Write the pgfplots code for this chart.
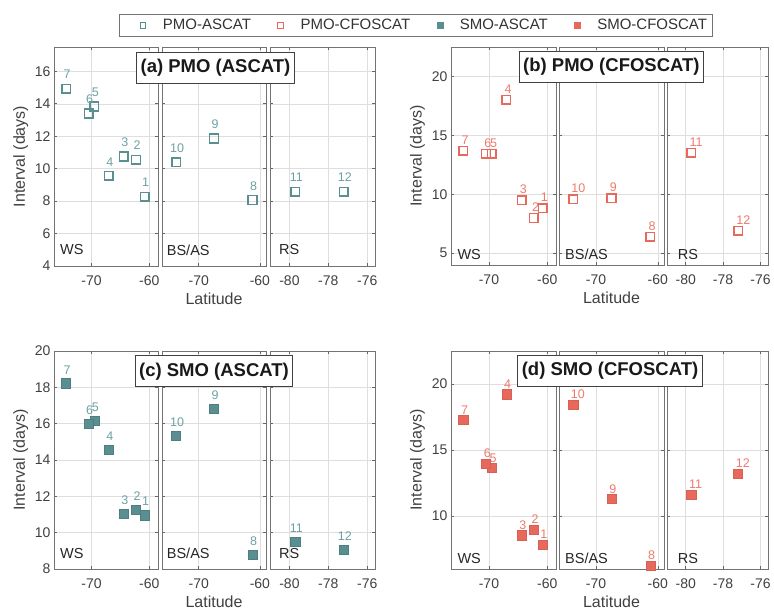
\documentclass[border=0pt]{standalone}
\usepackage{fontspec}
\setmainfont{Liberation Sans}
\usepackage{pgfplots}
\pgfplotsset{compat=1.18}

\definecolor{mteal}{RGB}{90,143,146}
\definecolor{mtealL}{RGB}{110,160,162}
\definecolor{mred}{RGB}{232,104,92}
\definecolor{mredL}{RGB}{238,122,110}

\newcommand{\fs}[1]{\fontsize{#1}{#1}\selectfont}

\tikzset{rlab/.style={anchor=west, font=\fs{14.5}, text=black!85, inner sep=0pt},
  tbox/.style={draw=black!75, fill=white, line width=0.8pt, font=\bfseries\fs{18.5}, text=black!90, inner xsep=4pt, inner ysep=0pt, minimum height=31pt}}

\pgfplotsset{
 base/.style={scale only axis, anchor=south west, clip=false,
   axis line style={black!55, line width=0.9pt},
   grid=major, grid style={black!13, line width=0.5pt},
   tick style={black!60, line width=0.6pt}, major tick length=3pt, tick align=inside,
   tick label style={font=\fs{14}, text=black!75},
   /pgf/number format/assume math mode=true,
   xticklabel style={yshift=-6pt},
   every axis y label/.style={at={(axis description cs:-0.32,0.5)}, rotate=90, anchor=center, font=\fs{16}, text=black!75},
   every axis x label/.style={at={(axis description cs:0.5,-0.151)}, anchor=center, font=\fs{16}, text=black!75},
 },
 ws/.style={base, xmin=-76.5, xmax=-58.5, xtick={-70,-60}, ylabel={Interval (days)}},
 bs/.style={base, xmin=-76, xmax=-59, xtick={-70,-60}, yticklabels={}, xlabel={Latitude}},
 rs/.style={base, xmin=-81, xmax=-75.6, xtick={-80,-78,-76}, yticklabels={}},
 labT/.style={nodes near coords, point meta=explicit symbolic, nodes near coords align={anchor=south},
   nodes near coords style={font=\fs{12.5}, text=mtealL, inner sep=0pt, xshift=1pt, yshift=9pt}},
 labR/.style={nodes near coords, point meta=explicit symbolic, nodes near coords align={anchor=south west},
   nodes near coords style={font=\fs{12.5}, text=mredL, inner sep=0pt, xshift=-2.5pt, yshift=5.5pt}},
 openT/.style={only marks, mark=square, mark size=4.3pt, mark options={draw=mteal, line width=1.5pt}, labT},
 openR/.style={only marks, mark=square, mark size=4.3pt, mark options={draw=mred, line width=1.5pt}, labR},
 fillT/.style={only marks, mark=square*, mark size=4.6pt, mark options={draw=mteal!88!black, fill=mteal, line width=0.5pt}, labT},
 fillR/.style={only marks, mark=square*, mark size=4.6pt, mark options={draw=mred!92!black, fill=mred, line width=0.5pt}, labR},
}

\begin{document}
\begin{tikzpicture}
\path[use as bounding box] (0pt,0pt) rectangle (774pt,610pt);

% ================= (a) PMO ASCAT =================
\begin{axis}[ws, at={(54pt,344pt)}, width=104pt, height=219pt, ymin=4, ymax=17.5, ytick={4,6,...,16},
  legend columns=4,
  legend style={at={(axis description cs:3.476,1.0982)}, anchor=center, draw=black!55, line width=0.8pt, fill=white,
    inner xsep=5pt, inner ysep=5pt, font=\fs{15}, text=black!80, nodes={inner sep=0pt},
    /tikz/every odd column/.style={column sep=14pt}, /tikz/every even column/.style={column sep=10.5pt}},
  legend image code/.code={\path[draw=none] (-19pt,0pt) (6pt,0pt); \path[#1, draw=none] plot coordinates {(0pt,0pt)};}]
\addplot[openT, forget plot] table[meta=l]{
x y l
-60.8 8.28 1
-62.3 10.55 2
-64.4 10.75 3
-67.0 9.56 4
-69.5 13.83 5
-70.5 13.40 6
-74.4 14.93 7
};
\node[rlab] at (axis description cs:0.058,0.073) {WS};
\addlegendimage{only marks, mark=square, mark size=2.7pt, mark options={draw=mteal, line width=1.1pt}}
\addlegendentry{PMO-ASCAT}
\addlegendimage{only marks, mark=square, mark size=2.7pt, mark options={draw=mred, line width=1.1pt}}
\addlegendentry{PMO-CFOSCAT}
\addlegendimage{only marks, mark=square*, mark size=3pt, mark options={draw=mteal, fill=mteal, line width=0.4pt}}
\addlegendentry{SMO-ASCAT}
\addlegendimage{only marks, mark=square*, mark size=3pt, mark options={draw=mred, fill=mred, line width=0.4pt}}
\addlegendentry{SMO-CFOSCAT}
\end{axis}
\begin{axis}[bs, at={(162pt,344pt)}, width=104pt, height=219pt, ymin=4, ymax=17.5, ytick={4,6,...,16}]
\addplot[openT] table[meta=l]{
x y l
-61.2 8.07 8
-67.5 11.86 9
-73.7 10.40 10
};
\node[rlab] at (axis description cs:0.045,0.073) {BS/AS};
\end{axis}
\begin{axis}[rs, at={(270pt,344pt)}, width=105pt, height=219pt, ymin=4, ymax=17.5, ytick={4,6,...,16}]
\addplot[openT] table[meta=l]{
x y l
-79.7 8.58 11
-77.2 8.58 12
};
\node[rlab] at (axis description cs:0.086,0.073) {RS};
\end{axis}

% ================= (b) PMO CFOSCAT =================
\begin{axis}[ws, at={(451pt,345pt)}, width=105pt, height=218pt, ymin=4, ymax=22.5, ytick={5,10,15,20}]
\addplot[openR] table[meta=l]{
x y l
-60.8 8.83 1
-62.3 7.99 2
-64.4 9.51 3
-67.0 18.03 4
-69.5 13.43 5
-70.5 13.43 6
-74.4 13.68 7
};
\node[rlab] at (axis description cs:0.06,0.048) {WS};
\end{axis}
\begin{axis}[bs, at={(559pt,345pt)}, width=105pt, height=218pt, ymin=4, ymax=22.5, ytick={5,10,15,20}]
\addplot[openR] table[meta=l]{
x y l
-61.2 6.41 8
-67.5 9.68 9
-73.7 9.57 10
};
\node[rlab] at (axis description cs:0.057,0.048) {BS/AS};
\end{axis}
\begin{axis}[rs, at={(667pt,345pt)}, width=101pt, height=218pt, ymin=4, ymax=22.5, ytick={5,10,15,20}]
\addplot[openR] table[meta=l]{
x y l
-79.7 13.54 11
-77.2 6.92 12
};
\node[rlab] at (axis description cs:0.106,0.048) {RS};
\end{axis}

% ================= (c) SMO ASCAT =================
\begin{axis}[ws, at={(54pt,41pt)}, width=104pt, height=218pt, ymin=8, ymax=20, ytick={8,10,...,20}]
\addplot[fillT] table[meta=l]{
x y l
-60.8 10.96 1
-62.3 11.24 2
-64.4 11.02 3
-67.0 14.58 4
-69.5 16.14 5
-70.5 16.01 6
-74.4 18.22 7
};
\node[rlab] at (axis description cs:0.058,0.073) {WS};
\end{axis}
\begin{axis}[bs, at={(162pt,41pt)}, width=104pt, height=218pt, ymin=8, ymax=20, ytick={8,10,...,20}]
\addplot[fillT] table[meta=l]{
x y l
-61.2 8.79 8
-67.5 16.80 9
-73.7 15.35 10
};
\node[rlab] at (axis description cs:0.045,0.073) {BS/AS};
\end{axis}
\begin{axis}[rs, at={(270pt,41pt)}, width=105pt, height=218pt, ymin=8, ymax=20, ytick={8,10,...,20}]
\addplot[fillT] table[meta=l]{
x y l
-79.7 9.48 11
-77.2 9.06 12
};
\node[rlab] at (axis description cs:0.086,0.073) {RS};
\end{axis}

% ================= (d) SMO CFOSCAT =================
\begin{axis}[ws, at={(451pt,41pt)}, width=105pt, height=218pt, ymin=6, ymax=22.5, ytick={10,15,20}]
\addplot[fillR] table[meta=l]{
x y l
-60.8 7.85 1
-62.3 8.99 2
-64.4 8.56 3
-67.0 19.22 4
-69.5 13.64 5
-70.5 13.96 6
-74.4 17.27 7
};
\node[rlab] at (axis description cs:0.06,0.05) {WS};
\end{axis}
\begin{axis}[bs, at={(559pt,41pt)}, width=105pt, height=218pt, ymin=6, ymax=22.5, ytick={10,15,20}]
\addplot[fillR] table[meta=l]{
x y l
-61.2 6.24 8
-67.5 11.29 9
-73.7 18.43 10
};
\node[rlab] at (axis description cs:0.057,0.05) {BS/AS};
\end{axis}
\begin{axis}[rs, at={(667pt,41pt)}, width=101pt, height=218pt, ymin=6, ymax=22.5, ytick={10,15,20}]
\addplot[fillR] table[meta=l]{
x y l
-79.7 11.64 11
-77.2 13.21 12
};
\node[rlab] at (axis description cs:0.106,0.05) {RS};
\end{axis}

% ================= panel titles =================
\node[tbox] at (215.5pt,542.5pt) {(a) PMO (ASCAT)};
\node[tbox] at (611.4pt,543pt) {(b) PMO (CFOSCAT)};
\node[tbox] at (214pt,238.7pt) {(c) SMO (ASCAT)};
\node[tbox] at (610pt,239pt) {(d) SMO (CFOSCAT)};
\end{tikzpicture}
\end{document}
